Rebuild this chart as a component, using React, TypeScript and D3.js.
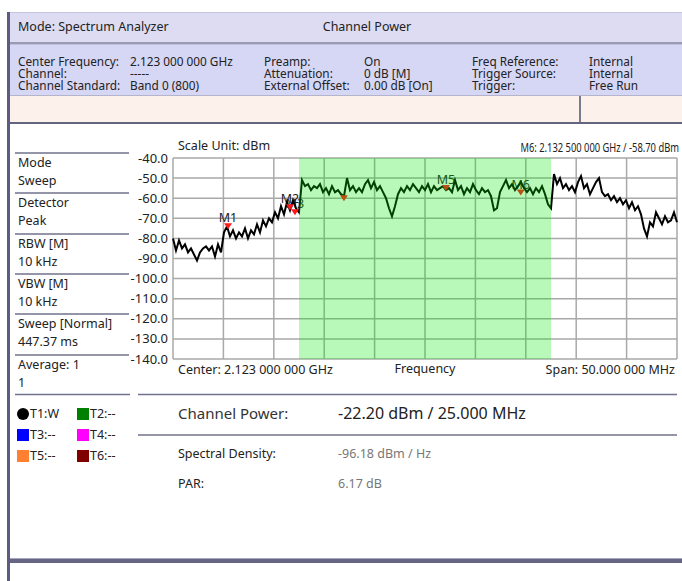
import React from 'react';
import * as d3 from 'd3';

// sweep settings
const centerGHz = 2.123;
const spanMHz = 50;
const channelBwMHz = 25;

const yTicks = [-40, -50, -60, -70, -80, -90, -100, -110, -120, -130, -140];

// trace T1 (dBm), evenly spaced over the span
const traceDbm = [
  -80, -86, -81, -85, -83, -87, -85, -88, -91, -87,
  -85, -84, -86, -84, -89, -83, -87, -77, -74, -79,
  -76, -80, -77, -79, -75, -80, -76, -78, -73, -77,
  -71, -74, -70, -72, -67, -70, -64, -68, -62, -66,
  -61, -65, -67, -51, -54, -53, -56, -54, -55, -53,
  -57, -55, -58, -54, -57, -56, -58, -59, -50, -56,
  -54, -57, -55, -57, -53, -51, -55, -52, -56, -54,
  -57, -60, -65, -69, -64, -58, -55, -57, -54, -56,
  -53, -55, -57, -54, -56, -53, -57, -54, -56, -55,
  -54, -56, -55, -57, -51, -56, -54, -58, -55, -57,
  -53, -56, -58, -55, -57, -56, -59, -66, -65, -57,
  -54, -51, -55, -53, -56, -54, -52, -55, -57, -55,
  -58, -55, -57, -54, -58, -63, -65, -48, -53, -50,
  -55, -53, -56, -54, -57, -52, -49, -55, -53, -58,
  -55, -52, -50, -57, -59, -58, -61, -59, -62, -60,
  -63, -61, -65, -62, -66, -64, -68, -75, -79, -72,
  -74, -67, -70, -73, -69, -72, -71, -67, -72,
];

const markerNames = ['M1', 'M2', 'M3', 'M4', 'M5', 'M6'];
const markerGHz = [2.10346, 2.10961, 2.1101, 2.11496, 2.12508, 2.1325];
const markerDbm = [-75.5, -66, -68.5, -61.5, -56.4, -58.7];
const markerLabelShown = [true, true, true, false, true, true];

const headerLabels1 = ['Center Frequency:', 'Channel:', 'Channel Standard:'];
const headerValues1 = ['2.123 000 000 GHz', '-----', 'Band 0 (800)'];
const headerLabels2 = ['Preamp:', 'Attenuation:', 'External Offset:'];
const headerValues2 = ['On', '0 dB [M]', '0.00 dB [On]'];
const headerLabels3 = ['Freq Reference:', 'Trigger Source:', 'Trigger:'];
const headerValues3 = ['Internal', 'Internal', 'Free Run'];

const panelTitles = ['Mode', 'Detector', 'RBW [M]', 'VBW [M]', 'Sweep [Normal]', 'Average: 1'];
const panelValues = ['Sweep', 'Peak', '10 kHz', '10 kHz', '447.37 ms', '1'];

const traceNames = ['T1:W', 'T2:--', 'T3:--', 'T4:--', 'T5:--', 'T6:--'];
const traceColors = ['#000000', '#008000', '#0000ff', '#ff00ff', '#ff8030', '#800000'];

const resultLabels = ['Channel Power:', 'Spectral Density:', 'PAR:'];
const resultValues = ['-22.20 dBm / 25.000 MHz', '-96.18 dBm / Hz', '6.17 dB'];

const font = "'Noto Sans', 'Open Sans', sans-serif";

// 2.123000000 -> "2.123 000 000"
const groupDigits = (v: number, decimals: number) => {
  const [int, frac] = v.toFixed(decimals).split('.');
  return int + '.' + frac.replace(/(\d{3})(?=\d)/g, '$1 ');
};

export default function App() {
  const startGHz = centerGHz - spanMHz / 2000;
  const stopGHz = centerGHz + spanMHz / 2000;
  const x = d3.scaleLinear().domain([startGHz, stopGHz]).range([173, 677]);
  const y = d3.scaleLinear().domain([-140, -40]).range([359, 158]);

  const freqs = traceDbm.map((_, i) => startGHz + (i / (traceDbm.length - 1)) * (stopGHz - startGHz));
  const line = d3
    .line<number>()
    .x((_, i) => x(freqs[i]))
    .y(d => y(d));
  const xGrid = d3.range(0, 11).map(i => startGHz + (i * spanMHz) / 10 / 1000);
  const bandL = x(centerGHz - channelBwMHz / 2000);
  const bandR = x(centerGHz + channelBwMHz / 2000);
  const [x0, x1] = x.range();
  const [yb, yt] = y.range();

  const rowY = [62, 74, 86];
  const panelLines = [153, 193, 234, 274, 314, 355];

  return (
    <svg
      width={682}
      height={581}
      style={{ position: 'absolute', left: 0, top: 0, background: '#fff' }}
      fontFamily={font}
    >
      {/* header */}
      <rect x={10} y={12} width={672} height={1} fill="#c4c4de" />
      <rect x={10} y={13} width={672} height={29} fill="#dddcf2" />
      <rect x={10} y={42} width={672} height={2} fill="#9a9ab6" />
      <rect x={10} y={44} width={672} height={1} fill="#c0c0d8" />
      <rect x={10} y={45} width={672} height={50} fill="#d6d6f5" />
      <rect x={10} y={95} width={672} height={1} fill="#b4b4cc" />
      <rect x={10} y={96} width={672} height={26} fill="#fdf1ec" />
      <rect x={579} y={96} width={2} height={26} fill="#7a7a90" />
      <rect x={10} y={122} width={672} height={2} fill="#64647f" />

      <text x={18} y={27} dy="0.35em" fontSize={12.5} fill="#222">Mode: Spectrum Analyzer</text>
      <text x={367} y={27} dy="0.35em" fontSize={12.5} fill="#222" textAnchor="middle">Channel Power</text>
      {rowY.map((ry, i) => (
        <g key={i} fontSize={11.8} fill="#222">
          <text x={18} y={ry} dy="0.35em">{headerLabels1[i]}</text>
          <text x={130} y={ry} dy="0.35em">{headerValues1[i]}</text>
          <text x={264} y={ry} dy="0.35em">{headerLabels2[i]}</text>
          <text x={364} y={ry} dy="0.35em">{headerValues2[i]}</text>
          <text x={472} y={ry} dy="0.35em">{headerLabels3[i]}</text>
          <text x={589} y={ry} dy="0.35em">{headerValues3[i]}</text>
        </g>
      ))}

      {/* left frame bar */}
      <rect x={7} y={12} width={3} height={569} fill="#5c5c80" />

      {/* left settings panel */}
      {panelLines.map((ly, i) => (
        <g key={i} fontSize={12.5} fill="#222">
          <line x1={15} x2={129} y1={ly} y2={ly} stroke="#72728e" strokeWidth={1.5} />
          <text x={18} y={ly + 10} dy="0.35em">{panelTitles[i]}</text>
          <text x={18} y={ly + 28} dy="0.35em">{panelValues[i]}</text>
        </g>
      ))}

      {/* chart */}
      <text x={178} y={146} dy="0.35em" fontSize={12.5} fill="#222">Scale Unit: dBm</text>
      <g transform="translate(679,148) scale(0.75,1)">
        <text x={0} y={0} dy="0.35em" fontSize={12.5} fill="#222" textAnchor="end">
          {`M6:  ${groupDigits(markerGHz[5], 9)} GHz / ${markerDbm[5].toFixed(2)} dBm`}
        </text>
      </g>

      {yTicks.map(t => (
        <g key={t}>
          <line x1={x0} x2={x1} y1={y(t)} y2={y(t)} stroke="#a9a9a9" strokeWidth={1.5} />
          <text x={168} y={y(t)} dy="0.35em" fontSize={13} fill="#222" textAnchor="end">
            {t.toFixed(1)}
          </text>
        </g>
      ))}
      {xGrid.map((f, i) => (
        <line key={i} x1={x(f)} x2={x(f)} y1={yt} y2={yb} stroke="#a9a9a9" strokeWidth={1.5} />
      ))}

      {markerNames.map((m, i) =>
        markerLabelShown[i] ? (
          <text
            key={m}
            x={x(markerGHz[i])}
            y={y(markerDbm[i]) - 7}
            fontSize={12.5}
            fill="#222"
            textAnchor="middle"
          >
            {m}
          </text>
        ) : null
      )}

      <path d={line(traceDbm) ?? ''} fill="none" stroke="#000" strokeWidth={2} strokeLinejoin="miter" />

      {markerNames.map((m, i) => {
        const mx = x(markerGHz[i]);
        const my = y(markerDbm[i]);
        return (
          <path key={m} d={`M${mx - 4},${my - 6}L${mx + 4},${my - 6}L${mx},${my}Z`} fill="#ff1a1a" />
        );
      })}

      {/* channel bandwidth overlay */}
      <rect x={bandL} y={yt} width={bandR - bandL} height={yb - yt} fill="rgb(0,230,0)" fillOpacity={0.28} />

      <text x={178} y={370} dy="0.35em" fontSize={12.5} fill="#222">
        {`Center: ${groupDigits(centerGHz, 9)} GHz`}
      </text>
      <text x={(x0 + x1) / 2} y={369} dy="0.35em" fontSize={12.5} fill="#222" textAnchor="middle">Frequency</text>
      <text x={675} y={370} dy="0.35em" fontSize={12.5} fill="#222" textAnchor="end">
        {`Span: ${groupDigits(spanMHz, 6)} MHz`}
      </text>

      {/* bottom: trace legend and results */}
      <line x1={15} x2={130} y1={394.5} y2={394.5} stroke="#72728e" strokeWidth={1.5} />
      <line x1={138} x2={677} y1={394.5} y2={394.5} stroke="#72728e" strokeWidth={1.5} />
      {traceNames.map((t, i) => {
        const cx = i % 2 === 0 ? 17 : 77;
        const cy = 414 + Math.floor(i / 2) * 21;
        return (
          <g key={t}>
            {i === 0 ? (
              <circle cx={cx + 6} cy={cy} r={6} fill={traceColors[i]} />
            ) : (
              <rect x={cx} y={cy - 6} width={12} height={12} fill={traceColors[i]} />
            )}
            <text x={cx + 13} y={cy} dy="0.35em" fontSize={12.5} fill="#222">{t}</text>
          </g>
        );
      })}

      <text x={178} y={414} dy="0.35em" fontSize={15} fill="#333">{resultLabels[0]}</text>
      <text x={338} y={413} dy="0.35em" fontSize={16} fill="#222">{resultValues[0]}</text>
      <line x1={138} x2={677} y1={435} y2={435} stroke="#72728e" strokeWidth={1.5} />
      {[454, 484].map((ry, i) => (
        <g key={ry} fontSize={12.5}>
          <text x={178} y={ry} dy="0.35em" fill="#222">{resultLabels[i + 1]}</text>
          <text x={338} y={ry} dy="0.35em" fill="#777">{resultValues[i + 1]}</text>
        </g>
      ))}

      <rect x={10} y={558} width={672} height={1} fill="#a8a8c4" />
      <rect x={10} y={559} width={672} height={4} fill="#666684" />
    </svg>
  );
}
